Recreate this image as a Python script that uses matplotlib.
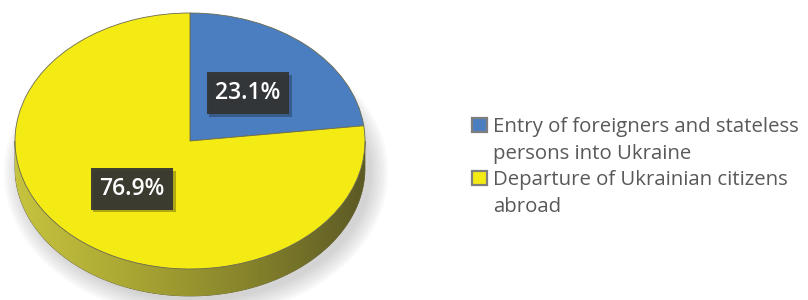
import numpy as np
import matplotlib.pyplot as plt
import matplotlib.patheffects as pe
from matplotlib.patches import Rectangle, Polygon, Ellipse
from matplotlib.colors import LinearSegmentedColormap

# data
categories = ['Entry of foreigners and stateless\npersons into Ukraine',
              'Departure of Ukrainian citizens\nabroad']
shares = [23.1, 76.9]
colors = ['#4a7ec0', '#f5eb14']

W, H = 808, 300
fig = plt.figure(figsize=(W / 100, H / 100), dpi=100)

# pie geometry in pixels (top face ellipse)
cx, cy = 190, 141
rx, ry = 175, 128
depth_px = 27
depth = depth_px / ry

ax_w = 395
ax = fig.add_axes([0, 0, ax_w / W, 1])
ax.set_axis_off()

# soft shadow under the pie
for k in range(10):
    ax.add_patch(Ellipse((6 / rx, -(depth_px + 5) / ry), 2 + k * 0.022, 2 + k * 0.03,
                         facecolor='#808080', edgecolor='none', alpha=0.035, zorder=0))

# side of the disc with a shade from left to right
t = np.linspace(np.pi, 2 * np.pi, 300)
side_x = np.concatenate([np.cos(t), np.cos(t[::-1])])
side_y = np.concatenate([np.sin(t), np.sin(t[::-1]) - depth])
side = Polygon(np.column_stack([side_x, side_y]), closed=True, facecolor='none',
               edgecolor='#55531f', linewidth=0.5, zorder=1)
ax.add_patch(side)
side_cmap = LinearSegmentedColormap.from_list(
    'side', ['#c6c33f', '#aaa633', '#86832c', '#5c5a25'])
grad = np.linspace(0, 1, 256).reshape(1, -1)
im = ax.imshow(grad, cmap=side_cmap, extent=[-1, 1, -1 - depth, 0],
               aspect='auto', zorder=1, interpolation='bilinear')
im.set_clip_path(side)

wedges, _, autotexts = ax.pie(
    shares, colors=colors, startangle=90, counterclock=False,
    autopct='%1.1f%%', pctdistance=0.5, radius=1,
    wedgeprops=dict(linewidth=0.6, edgecolor='#6a6a50', zorder=2))
ax.set_aspect('auto')
ax.set_xlim(-cx / rx, (ax_w - cx) / rx)
ax.set_ylim(-(H - cy) / ry, cy / ry)
ax.set_axis_off()

for txt in autotexts:
    txt.set_family(['Open Sans', 'DejaVu Sans'])
    txt.set_fontsize(16.5)
    txt.set_fontweight('semibold')
    txt.set_color('white')
    txt.set_zorder(5)
    txt.set_bbox(dict(boxstyle='square,pad=0.38', facecolor='#333333',
                      edgecolor='none', alpha=0.93))
    txt.get_bbox_patch().set_path_effects(
        [pe.SimplePatchShadow(offset=(2, -2), alpha=0.3), pe.Normal()])

# legend drawn in pixel coordinates
lax = fig.add_axes([0, 0, 1, 1])
lax.set_xlim(0, W)
lax.set_ylim(H, 0)
lax.set_axis_off()

line_h = 26.7
base0 = 132
n = 0
for label, col in zip(categories, colors):
    lax.add_patch(Rectangle((472, base0 + n * line_h - 14), 15, 14,
                            facecolor=col, edgecolor='#7f7f7f', linewidth=1.6))
    for line in label.split('\n'):
        lax.text(493, base0 + n * line_h, line, fontsize=14.7, color='#595959',
                 family=['Open Sans', 'DejaVu Sans'], va='baseline', ha='left')
        n += 1

fig.savefig('out.png', dpi=100)
